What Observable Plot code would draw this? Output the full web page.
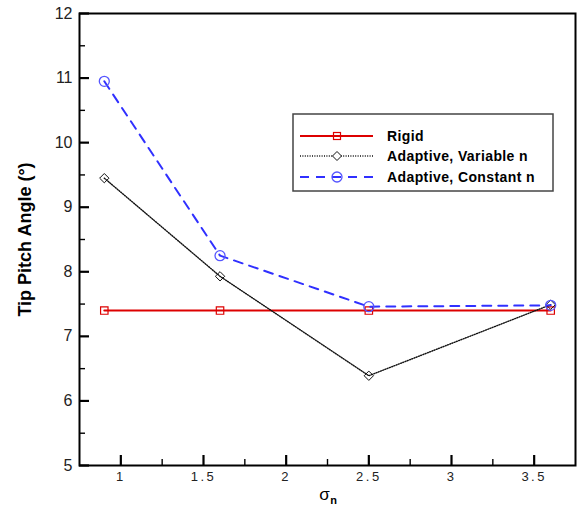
<!DOCTYPE html>
<html>
<head>
<meta charset="utf-8">
<script src="https://cdn.jsdelivr.net/npm/d3@7"></script>
<script src="https://cdn.jsdelivr.net/npm/@observablehq/plot@0.6"></script>
<style>
  html, body { margin: 0; padding: 0; background: #fff; }
</style>
</head>
<body>
<div id="chart"></div>
<script>
// ---- data ----
const sigma = [0.9, 1.6, 2.5, 3.6];
const rigid = [7.4, 7.4, 7.4, 7.4];
const variableN = [9.45, 7.93, 6.39, 7.49];
const constantN = [10.95, 8.25, 7.46, 7.48];

const seriesNames = ["Rigid", "Adaptive, Variable n", "Adaptive, Constant n"];

const xMajorTicks = [1, 1.5, 2, 2.5, 3, 3.5];
const xMinorTicks = [1.25, 1.75, 2.25, 2.75, 3.25];
const yMajorTicks = [5, 6, 7, 8, 9, 10, 11, 12];
const yMinorTicks = [5.5, 6.5, 7.5, 8.5, 9.5, 10.5, 11.5];

const yTitle = "Tip Pitch Angle (°)";
const xTitleMain = "σ";
const xTitleSub = "n";

// ---- tables ----
const toRows = vals => sigma.map((s, i) => ({x: s, y: vals[i]}));
const rigidRows = toRows(rigid);
const varRows = toRows(variableN);
const constRows = toRows(constantN);

const RED = "#dd0000", BLACK = "#111111", BLUE = "#3030ff", BLUE_M = "#5555ff";
const FONT = "Liberation Sans, Arial, Helvetica, sans-serif";
const DOT_DASH = "1,1.4";

const W = 580, H = 510, ML = 79, MR = 5, MT = 13, MB = 45;
const frameW = W - ML - MR, frameH = H - MT - MB;
const MAJOR = 10, MINOR = 6;

const plot = Plot.plot({
  width: W,
  height: H,
  marginLeft: ML,
  marginRight: MR,
  marginTop: MT,
  marginBottom: MB,
  style: {fontFamily: FONT, background: "#fff", color: "#000"},
  x: {domain: [0.75, 3.75]},
  y: {domain: [5, 12]},
  marks: [
    Plot.frame({stroke: "#000", strokeWidth: 2}),
    // inward tick marks
    Plot.ruleX(xMajorTicks, {x: d => d, insetTop: frameH - MAJOR, stroke: "#000", strokeWidth: 2.2}),
    Plot.ruleX(xMinorTicks, {x: d => d, insetTop: frameH - MINOR, stroke: "#000", strokeWidth: 1.4}),
    Plot.ruleY(yMajorTicks, {y: d => d, insetRight: frameW - MAJOR, stroke: "#000", strokeWidth: 2.2}),
    Plot.ruleY(yMinorTicks, {y: d => d, insetRight: frameW - MINOR, stroke: "#000", strokeWidth: 1.4}),
    // tick labels
    Plot.axisX({ticks: xMajorTicks, tickSize: 0, tickPadding: 6, label: null, fontSize: 13,
                fill: "#222", tickFormat: d => String(d)}),
    Plot.axisY({ticks: yMajorTicks, tickSize: 0, tickPadding: 7, label: null, fontSize: 16,
                fill: "#222", tickFormat: d => String(d)}),
    // axis titles
    Plot.text([yTitle], {text: d => d, frameAnchor: "left", textAnchor: "middle", rotate: -90, dx: -54,
                         fontSize: 18, fontWeight: "bold", fill: "#000"}),
    Plot.text([xTitleMain], {text: d => d, frameAnchor: "bottom", lineAnchor: "middle", dy: 29, dx: -3,
                             fontSize: 17, fill: "#000"}),
    Plot.text([xTitleSub], {text: d => d, frameAnchor: "bottom", lineAnchor: "middle", dy: 35, dx: 6,
                            fontSize: 11, fontWeight: "bold", fill: "#000"}),
    // series
    Plot.line(rigidRows, {x: "x", y: "y", stroke: RED, strokeWidth: 2}),
    Plot.dot(rigidRows, {x: "x", y: "y", symbol: "square", r: 4.2, stroke: RED, strokeWidth: 1.2, fill: "none"}),
    Plot.line(varRows, {x: "x", y: "y", stroke: BLACK, strokeWidth: 1.4, strokeDasharray: DOT_DASH}),
    Plot.dot(varRows, {x: "x", y: "y", symbol: "diamond2", r: 4.2, stroke: BLACK, strokeWidth: 1, fill: "none"}),
    Plot.line(constRows, {x: "x", y: "y", stroke: BLUE, strokeWidth: 2, strokeDasharray: "9,7"}),
    Plot.dot(constRows, {x: "x", y: "y", symbol: "circle", r: 5, stroke: BLUE_M, strokeWidth: 1.3, fill: "none"})
  ]
});

document.getElementById("chart").appendChild(plot);
const svg = d3.select(plot);

// wider spacing of x tick labels as in the reference
svg.selectAll('g[aria-label="x-axis tick label"] text').attr("letter-spacing", "2.5px");

// ---- legend inside the plot area ----
const lg = svg.append("g").attr("class", "legend");
lg.append("rect").attr("x", 293).attr("y", 114).attr("width", 260).attr("height", 77)
  .attr("fill", "#fff").attr("stroke", "#444").attr("stroke-width", 1.5);
const legendStyles = [
  {color: RED, dash: null, width: 2, mcolor: RED},
  {color: BLACK, dash: DOT_DASH, width: 1.4, mcolor: BLACK},
  {color: BLUE, dash: "9,7", width: 2, mcolor: BLUE_M}
];
const rowY = [136, 156, 177];
seriesNames.forEach((name, i) => {
  const st = legendStyles[i];
  const y = rowY[i];
  const line = lg.append("line").attr("x1", 300).attr("x2", 373).attr("y1", y).attr("y2", y)
    .attr("stroke", st.color).attr("stroke-width", st.width);
  if (st.dash) line.attr("stroke-dasharray", st.dash);
  if (i === 1) {
    lg.append("path").attr("d", "M0,-4.5L4.5,0L0,4.5L-4.5,0Z")
      .attr("transform", `translate(337,${y})`).attr("fill", "#fff").attr("stroke", st.mcolor);
  } else if (i === 0) {
    lg.append("rect").attr("x", 337 - 3.5).attr("y", y - 3.5).attr("width", 7).attr("height", 7)
      .attr("fill", "none").attr("stroke", st.mcolor).attr("stroke-width", 1.2);
  } else {
    lg.append("circle").attr("cx", 337).attr("cy", y).attr("r", 5)
      .attr("fill", "none").attr("stroke", st.mcolor).attr("stroke-width", 1.3);
  }
  lg.append("text").attr("x", 387).attr("y", y).attr("dy", "0.35em")
    .attr("text-anchor", "start")
    .attr("font-family", FONT).attr("font-size", 14).attr("font-weight", "bold")
    .attr("letter-spacing", "0.4px").attr("fill", "#000").text(name);
});
</script>
</body>
</html>
